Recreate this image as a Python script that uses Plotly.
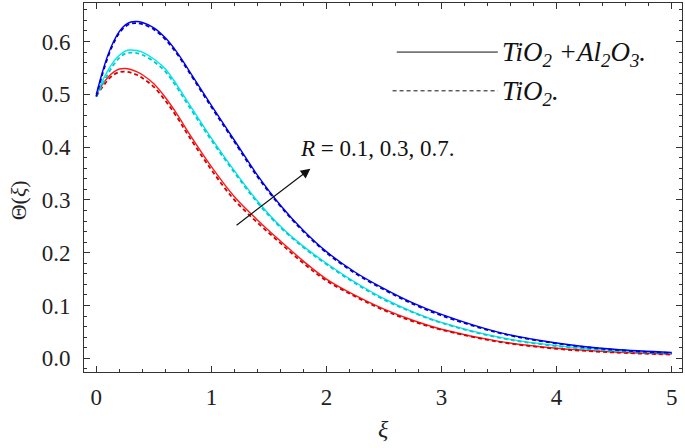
import plotly.graph_objects as go

xi = [0, 0.05, 0.1, 0.15, 0.2, 0.25, 0.3, 0.35, 0.4, 0.5, 0.6, 0.7, 0.8, 1.0, 1.2, 1.4,
      1.6, 1.8, 2.0, 2.25, 2.5, 2.75, 3.0, 3.5, 4.0, 4.5, 5.0]

# R = 0.7 (blue)
blue_solid = [0.500, 0.540, 0.574, 0.600, 0.619, 0.631, 0.637, 0.638, 0.636, 0.626, 0.607,
              0.580, 0.547, 0.479, 0.413, 0.347, 0.290, 0.242, 0.202, 0.163, 0.132, 0.105,
              0.083, 0.049, 0.029, 0.017, 0.011]
blue_dash = [0.496, 0.536, 0.570, 0.597, 0.616, 0.628, 0.634, 0.635, 0.633, 0.623, 0.604,
             0.577, 0.544, 0.476, 0.410, 0.344, 0.288, 0.240, 0.200, 0.161, 0.130, 0.103,
             0.081, 0.048, 0.028, 0.016, 0.010]
# R = 0.3 (cyan)
cyan_solid = [0.500, 0.524, 0.545, 0.562, 0.574, 0.582, 0.584, 0.583, 0.580, 0.567, 0.548,
              0.518, 0.484, 0.417, 0.355, 0.298, 0.250, 0.212, 0.180, 0.144, 0.113, 0.088,
              0.068, 0.040, 0.024, 0.015, 0.010]
cyan_dash = [0.495, 0.517, 0.538, 0.556, 0.569, 0.577, 0.579, 0.578, 0.575, 0.562, 0.543,
             0.513, 0.479, 0.413, 0.352, 0.295, 0.248, 0.210, 0.178, 0.142, 0.111, 0.087,
             0.067, 0.039, 0.023, 0.014, 0.009]
# R = 0.1 (red)
red_solid = [0.500, 0.518, 0.532, 0.542, 0.548, 0.549, 0.547, 0.543, 0.537, 0.520, 0.494,
             0.463, 0.428, 0.363, 0.306, 0.262, 0.222, 0.184, 0.150, 0.119, 0.093, 0.072,
             0.055, 0.032, 0.019, 0.012, 0.008]
red_dash = [0.497, 0.513, 0.527, 0.537, 0.542, 0.543, 0.541, 0.537, 0.531, 0.514, 0.488,
            0.457, 0.422, 0.357, 0.300, 0.257, 0.218, 0.180, 0.147, 0.117, 0.091, 0.070,
            0.054, 0.031, 0.018, 0.011, 0.007]

x_ticks = [0, 1, 2, 3, 4, 5]
y_ticks = [0.0, 0.1, 0.2, 0.3, 0.4, 0.5, 0.6]
y_tick_text = ["0.0", "0.1", "0.2", "0.3", "0.4", "0.5", "0.6"]

BLUE = "#0000ff"
CYAN = "#00e8e8"
RED = "#ff1a1a"
SERIF = "Liberation Serif"

fig = go.Figure()
for ys, col in [(red_solid, RED), (cyan_solid, CYAN), (blue_solid, BLUE)]:
    fig.add_trace(go.Scatter(x=xi, y=ys, mode="lines", line=dict(color=col, width=1.4, shape="spline"),
                             showlegend=False))
for ys, col in [(red_dash, "#d00000"), (cyan_dash, "#00c8d8"), (blue_dash, "#0000c0")]:
    fig.add_trace(go.Scatter(x=xi, y=ys, mode="lines",
                             line=dict(color=col, width=1.8, dash="4px,3px", shape="spline"),
                             showlegend=False))

axis_common = dict(
    showline=True, linecolor="#333", linewidth=1, mirror="allticks", automargin=False,
    ticks="inside", ticklen=6, tickcolor="#333", showgrid=False, zeroline=False,
    tickfont=dict(family=SERIF, size=23, color="#222"),
)
fig.update_xaxes(range=[-0.107, 5.09], tickvals=x_ticks, ticklabelstandoff=4,
                 minor=dict(ticks="inside", dtick=0.2, ticklen=3, tickcolor="#333"),
                 **axis_common)
fig.update_yaxes(range=[-0.026, 0.673], tickvals=y_ticks, ticktext=y_tick_text, ticklabelstandoff=8,
                 minor=dict(ticks="inside", dtick=0.02, ticklen=3, tickcolor="#333"),
                 **axis_common)

# axis titles
fig.add_annotation(xref="paper", yref="paper", x=0.5, y=-0.155, yanchor="middle", showarrow=False,
                   text="<i>ξ</i>", font=dict(family=SERIF, size=24, color="#222"))
fig.add_annotation(xref="paper", yref="paper", x=-0.11, y=0.466, xanchor="center", yanchor="middle",
                   textangle=-90, showarrow=False,
                   text="Θ(<i>ξ</i>)", font=dict(family=SERIF, size=22, color="#222"))

# legend drawn manually
fig.add_shape(type="line", xref="paper", yref="paper", x0=0.523, x1=0.692, y0=0.867, y1=0.867,
              line=dict(color="#111", width=1))
fig.add_shape(type="line", xref="paper", yref="paper", x0=0.516, x1=0.692, y0=0.762, y1=0.762,
              line=dict(color="#111", width=1, dash="4px,3px"))
fig.add_annotation(xref="paper", yref="paper", x=0.695, y=0.862, xanchor="left", yanchor="middle",
                   text="<i>TiO<sub>2</sub> +Al<sub>2</sub>O<sub>3</sub>.</i>", showarrow=False,
                   font=dict(family=SERIF, size=27, color="#111"))
fig.add_annotation(xref="paper", yref="paper", x=0.695, y=0.757, xanchor="left", yanchor="middle",
                   text="<i>TiO<sub>2</sub>.</i>", showarrow=False,
                   font=dict(family=SERIF, size=27, color="#111"))

fig.add_annotation(x=1.86, y=0.359, ax=1.206, ay=0.250, axref="x", ayref="y", xref="x", yref="y",
                   showarrow=True, arrowhead=2, arrowsize=1.6, arrowwidth=1.2, arrowcolor="#111", text="")
fig.add_annotation(x=1.75, y=0.398, xanchor="left", yanchor="middle", showarrow=False,
                   text="<i>R</i> = 0.1, 0.3, 0.7.", font=dict(family=SERIF, size=23, color="#111"))

fig.update_layout(width=685, height=448, margin=dict(l=84, r=3, t=3, b=76),
                  plot_bgcolor="white", paper_bgcolor="white")
fig.write_html("out.html", config={"displayModeBar": False},
               post_script="document.body.style.margin='0';document.body.style.overflow='hidden';")
